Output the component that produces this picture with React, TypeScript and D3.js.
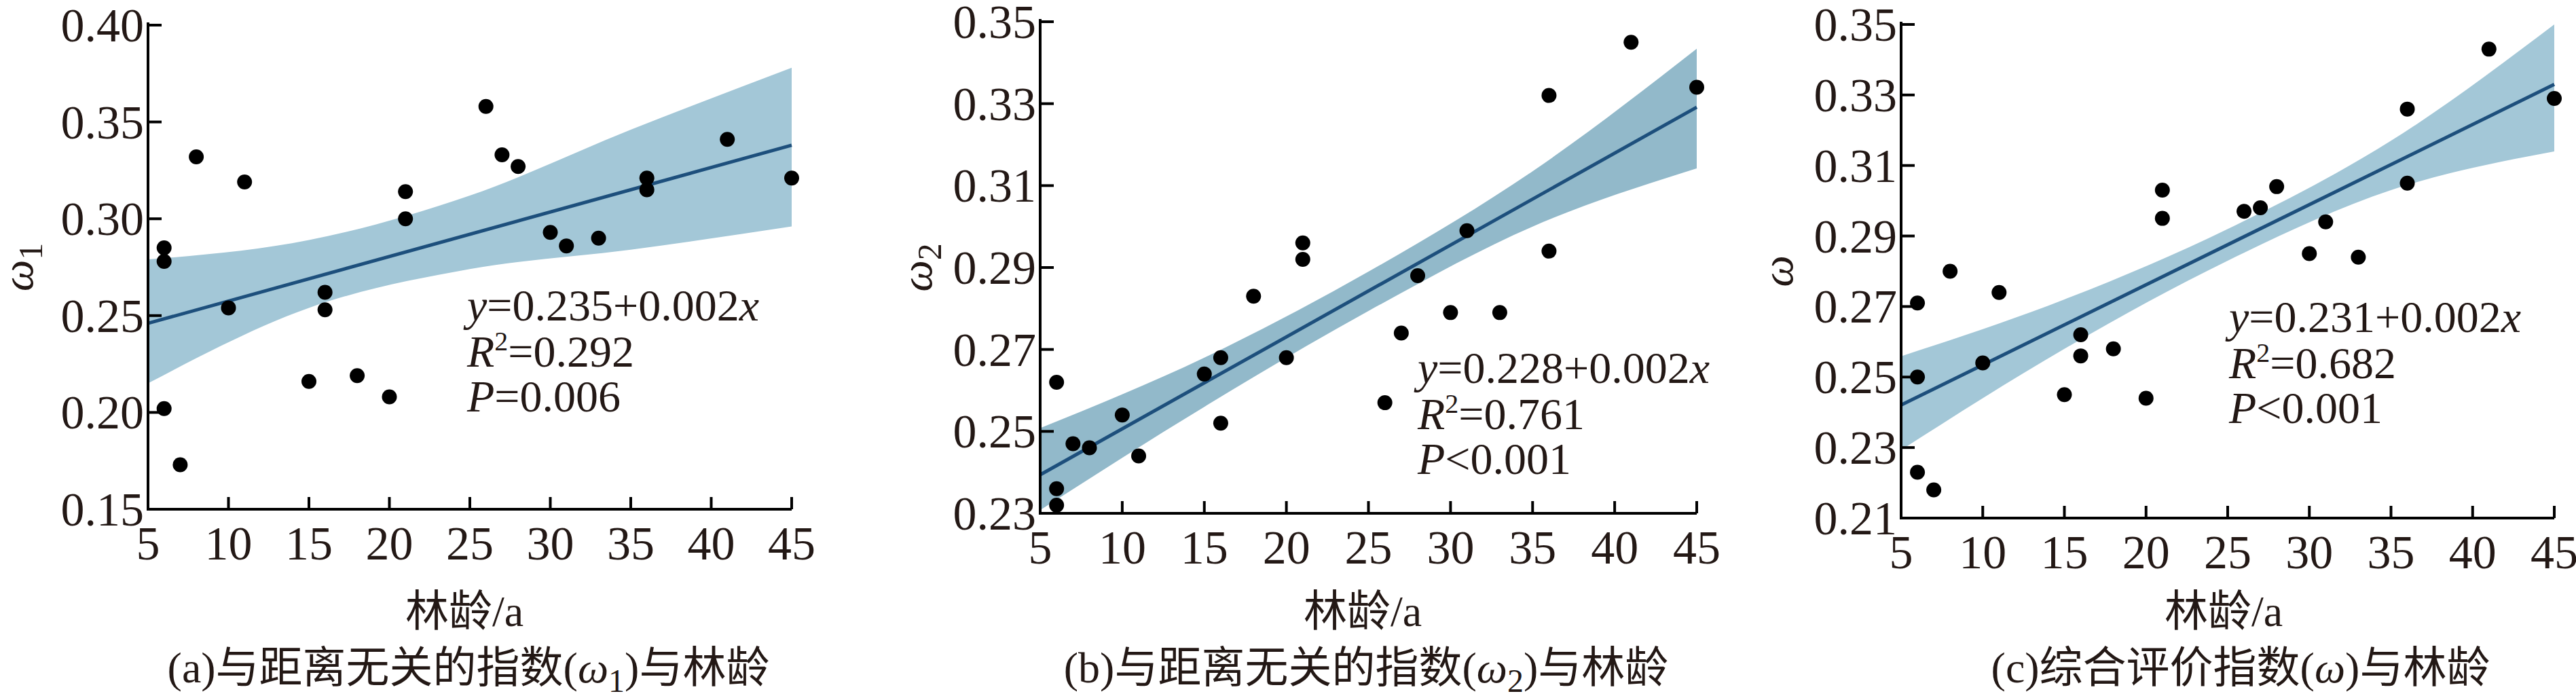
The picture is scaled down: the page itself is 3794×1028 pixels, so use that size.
import React from "react";
import * as d3 from "d3";

const ageA = [6,6,6,7,8,10,11,15,16,16,18,20,21,21,26,27,28,30,31,33,36,36,41,45];
const valA = [0.285,0.278,0.202,0.173,0.332,0.254,0.319,0.216,0.262,0.253,0.219,0.208,0.314,0.300,0.358,0.333,0.327,0.293,0.286,0.290,0.321,0.315,0.341,0.321];
const ageB = [6,6,6,7,8,10,11,15,16,16,18,20,21,21,26,27,28,30,31,33,36,36,41,45];
const valB = [0.262,0.236,0.232,0.247,0.246,0.254,0.244,0.264,0.268,0.252,0.283,0.268,0.296,0.292,0.257,0.274,0.288,0.279,0.299,0.279,0.332,0.294,0.345,0.334];
const ageC = [6,6,6,7,8,10,11,15,16,16,18,20,21,21,26,27,28,30,31,33,36,36,41,45];
const valC = [0.271,0.250,0.223,0.218,0.280,0.254,0.274,0.245,0.262,0.256,0.258,0.244,0.303,0.295,0.297,0.298,0.304,0.285,0.294,0.284,0.326,0.305,0.343,0.329];

const bandX = [5,15,25,35,45];
const upA = [0.279,0.289,0.312,0.346,0.378];
const loA = [0.215,0.254,0.274,0.284,0.296];
const upB = [0.2508,0.268,0.289,0.3135,0.3434];
const loB = [0.2308,0.256,0.2794,0.300,0.3142];
const upC = [0.2559,0.272,0.292,0.317,0.350];
const loC = [0.2293,0.258,0.283,0.303,0.314];
const fitA = [0.2345,0.0023];
const fitB = [0.2282,0.002243];
const fitC = [0.2307,0.002273];

const xTicks = [5,10,15,20,25,30,35,40,45];
const yTicksA = [0.15,0.20,0.25,0.30,0.35,0.40];
const yTicksB = [0.23,0.25,0.27,0.29,0.31,0.33,0.35];
const yTicksC = [0.21,0.23,0.25,0.27,0.29,0.31,0.33,0.35];

const FONT = "'Liberation Serif','Times New Roman','Noto Sans CJK SC',serif";

type P = {
  x0: number; x1: number; yTop: number; yBot: number; dom: [number, number];
  ticks: number[]; ages: number[]; vals: number[]; up: number[]; lo: number[]; fit: number[];
  band: string; ysub: string; ylabX: number; eqX: number; eqY: number; eq: string[];
  titleX: number; capX: number; cap: React.ReactNode;
};

function Panel(p: P) {
  const x = d3.scaleLinear().domain([5, 45]).range([p.x0, p.x1]);
  const y = d3.scaleLinear().domain(p.dom).range([p.yBot, p.yTop]);
  const area = d3.area<number>().x((_, i) => x(bandX[i])).y0((_, i) => y(p.lo[i])).y1((d) => y(d)).curve(d3.curveMonotoneX);
  const line = d3.line<number>().x((d) => x(d)).y((d) => y(p.fit[0] + p.fit[1] * d));
  const fmt = d3.format(".2f");
  return (
    <g fontFamily={FONT} fill="#231815">
      <path d={area(p.up) || ""} fill={p.band} />
      <path d={line([5, 45]) || ""} stroke="#1d4f7c" strokeWidth={5} fill="none" />
      {p.ages.map((a, i) => <circle key={i} cx={x(a)} cy={y(p.vals[i])} r={11} fill="#000" />)}
      <path d={`M${p.x0},${p.yTop - 4}V${p.yBot}H${p.x1}`} stroke="#000" strokeWidth={4} fill="none" />
      {xTicks.map((t) => (
        <g key={t}>
          <line x1={x(t)} x2={x(t)} y1={p.yBot} y2={p.yBot - 18} stroke="#000" strokeWidth={4} />
          <text x={x(t)} y={p.yBot + 74} fontSize={70} textAnchor="middle">{t}</text>
        </g>
      ))}
      {p.ticks.map((t) => (
        <g key={t}>
          <line x1={p.x0} x2={p.x0 + 20} y1={y(t)} y2={y(t)} stroke="#000" strokeWidth={4} />
          <text x={p.x0 - 6} y={y(t) + 24} fontSize={70} textAnchor="end">{fmt(t)}</text>
        </g>
      ))}
      <text transform={`translate(${p.ylabX},${(p.yTop + p.yBot) / 2}) rotate(-90)`} fontSize={66} fontStyle="italic" textAnchor="middle">
        ω<tspan fontStyle="normal" fontSize={50} dy={14}>{p.ysub}</tspan>
      </text>
      <text x={p.eqX} y={p.eqY} fontSize={66}>
        <tspan fontStyle="italic">y</tspan>={p.eq[0]}<tspan fontStyle="italic">x</tspan>
      </text>
      <text x={p.eqX} y={p.eqY + 68} fontSize={66}>
        <tspan fontStyle="italic">R</tspan><tspan fontSize={40} dy={-24}>2</tspan><tspan dy={24}>={p.eq[1]}</tspan>
      </text>
      <text x={p.eqX} y={p.eqY + 134} fontSize={66}>
        <tspan fontStyle="italic">P</tspan>{p.eq[2]}
      </text>
      <text x={p.titleX} y={922} fontSize={64} textAnchor="middle">林龄/a</text>
      <text x={p.capX} y={1005} fontSize={64} textAnchor="middle">{p.cap}</text>
    </g>
  );
}

export default function App() {
  return (
    <svg width={3794} height={1028} style={{ display: "block", background: "#fff", position: "absolute", left: 0, top: 0 }}>
      <Panel x0={218} x1={1166} yTop={37} yBot={750} dom={[0.15, 0.40]} ticks={yTicksA}
        ages={ageA} vals={valA} up={upA} lo={loA} fit={fitA} band="#a3c7d7"
        ysub="1" ylabX={48} eqX={688} eqY={472} eq={["0.235+0.002", "0.292", "=0.006"]}
        titleX={684} capX={690}
        cap={<>(a)与距离无关的指数(<tspan fontStyle="italic">ω</tspan><tspan fontSize={48} dy={14}>1</tspan><tspan dy={-14}>)与林龄</tspan></>} />
      <Panel x0={1532} x1={2499} yTop={32} yBot={756} dom={[0.23, 0.35]} ticks={yTicksB}
        ages={ageB} vals={valB} up={upB} lo={loB} fit={fitB} band="#92b9ca"
        ysub="2" ylabX={1372} eqX={2088} eqY={564} eq={["0.228+0.002", "0.761", "<0.001"]}
        titleX={2007} capX={2012}
        cap={<>(b)与距离无关的指数(<tspan fontStyle="italic">ω</tspan><tspan fontSize={48} dy={14}>2</tspan><tspan dy={-14}>)与林龄</tspan></>} />
      <Panel x0={2800} x1={3762} yTop={36} yBot={763} dom={[0.21, 0.35]} ticks={yTicksC}
        ages={ageC} vals={valC} up={upC} lo={loC} fit={fitC} band="#a3c7d7"
        ysub="" ylabX={2640} eqX={3283} eqY={489} eq={["0.231+0.002", "0.682", "<0.001"]}
        titleX={3275} capX={3300}
        cap={<>(c)综合评价指数(<tspan fontStyle="italic">ω</tspan>)与林龄</>} />
    </svg>
  );
}
